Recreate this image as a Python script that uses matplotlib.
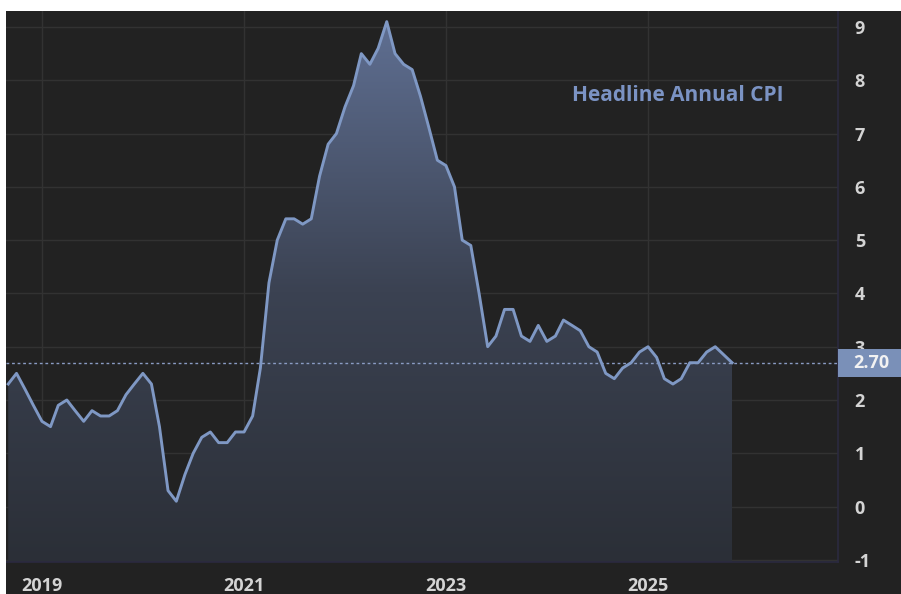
import numpy as np
import pandas as pd
import matplotlib
matplotlib.use("Agg")
import matplotlib.pyplot as plt
import matplotlib.dates as mdates
from matplotlib.colors import LinearSegmentedColormap
from matplotlib.patches import Rectangle
import matplotlib.transforms as mtransforms

# US headline CPI, year over year %, monthly from Sep 2018
start_month = "2018-09-01"
cpi_2018 = [2.3, 2.5, 2.2, 1.9]
cpi_2019 = [1.6, 1.5, 1.9, 2.0, 1.8, 1.6, 1.8, 1.7, 1.7, 1.8, 2.1, 2.3]
cpi_2020 = [2.5, 2.3, 1.5, 0.3, 0.1, 0.6, 1.0, 1.3, 1.4, 1.2, 1.2, 1.4]
cpi_2021 = [1.4, 1.7, 2.6, 4.2, 5.0, 5.4, 5.4, 5.3, 5.4, 6.2, 6.8, 7.0]
cpi_2022 = [7.5, 7.9, 8.5, 8.3, 8.6, 9.1, 8.5, 8.3, 8.2, 7.7, 7.1, 6.5]
cpi_2023 = [6.4, 6.0, 5.0, 4.9, 4.0, 3.0, 3.2, 3.7, 3.7, 3.2, 3.1, 3.4]
cpi_2024 = [3.1, 3.2, 3.5, 3.4, 3.3, 3.0, 2.9, 2.5, 2.4, 2.6, 2.7, 2.9]
# no October 2025 print
cpi_2025 = [3.0, 2.8, 2.4, 2.3, 2.4, 2.7, 2.7, 2.9, 3.0, np.nan, 2.7]

last_value = 2.70
series_label = "Headline Annual CPI"
year_ticks = ["2019", "2021", "2023", "2025"]
y_ticks = [-1, 0, 1, 2, 3, 4, 5, 6, 7, 8, 9]

BG = "#222222"
GRID = "#323232"
LINE = "#7f98c4"
TEXT = "#d4d4d4"

values = np.array(cpi_2018 + cpi_2019 + cpi_2020 + cpi_2021 + cpi_2022
                  + cpi_2023 + cpi_2024 + cpi_2025, dtype=float)
dates = pd.date_range(start_month, periods=len(values), freq="MS")
ok = ~np.isnan(values)
dates = dates[ok]
values = values[ok]

W, H = 901, 594
fig = plt.figure(figsize=(W / 100, H / 100), dpi=100, facecolor=BG)
ax = fig.add_axes([6 / W, (H - 562) / H, (838 - 6) / W, (562 - 11) / H])
ax.set_facecolor(BG)

x0 = mdates.date2num(pd.Timestamp("2018-08-24"))
x1 = mdates.date2num(pd.Timestamp("2026-11-19"))
y0, y1 = -1.04, 9.30

xs = mdates.date2num(dates)

# gradient area under the line
poly = ax.fill_between(xs, values, y0, facecolor="none", edgecolor="none")
cmap = LinearSegmentedColormap.from_list("area", ["#2b2f37", "#3b4252", "#5f6f92"])
grad = np.linspace(0, 1, 256).reshape(-1, 1)
im = ax.imshow(grad, extent=[xs[0], xs[-1], y0, 9.1], origin="lower",
               aspect="auto", cmap=cmap, zorder=1)
im.set_clip_path(poly.get_paths()[0], transform=ax.transData)

ax.plot(xs, values, color=LINE, lw=2.1, zorder=3, solid_joinstyle="round")

# last value line and tag
ax.axhline(last_value, color="#8a9cc4", lw=1, ls=(0, (2, 2)), zorder=2)
blend = mtransforms.blended_transform_factory(ax.transAxes, ax.transData)
ax.add_patch(Rectangle((1.0, last_value - 0.265), 63 / 832, 0.53,
                       transform=blend, facecolor="#7a90b8", edgecolor="none",
                       clip_on=False, zorder=6))
ax.text(1.0 + 15 / 832, last_value, f"{last_value:.2f}", transform=blend,
        ha="left", va="center", color="#f2f2f2", fontsize=13,
        fontfamily="Open Sans", fontweight="bold", zorder=7)

ax.text(0.934, 0.846, series_label, transform=ax.transAxes, ha="right",
        va="center", color="#7b93c4", fontsize=15, fontfamily="Open Sans",
        fontweight="bold", zorder=4)

ax.set_xlim(x0, x1)
ax.set_ylim(y0, y1)

ax.set_xticks([mdates.date2num(pd.Timestamp(y + "-01-01")) for y in year_ticks])
ax.set_xticklabels(year_ticks)
ax.set_yticks(y_ticks)
ax.set_yticklabels([str(v) for v in y_ticks])
ax.yaxis.tick_right()
ax.tick_params(axis="both", length=0, colors=TEXT, labelsize=13)
ax.tick_params(axis="y", pad=12)
ax.tick_params(axis="x", pad=11)
for lab in ax.get_xticklabels() + ax.get_yticklabels():
    lab.set_fontfamily("Open Sans")
    lab.set_fontweight("bold")

ax.grid(True, color=GRID, lw=1, zorder=0)
ax.set_axisbelow(True)
for side in ["top", "left"]:
    ax.spines[side].set_visible(False)
for side in ["right", "bottom"]:
    ax.spines[side].set_color("#2b2a40")
    ax.spines[side].set_linewidth(1.2)

# white strips on top and left edge of the screenshot
fig.patches.append(Rectangle((0, 0), 6 / W, 1, transform=fig.transFigure,
                             facecolor="white", edgecolor="none"))
fig.patches.append(Rectangle((0, 1 - 11 / H), 1, 11 / H, transform=fig.transFigure,
                             facecolor="white", edgecolor="none"))

fig.savefig("out.png", dpi=100, facecolor=BG)
